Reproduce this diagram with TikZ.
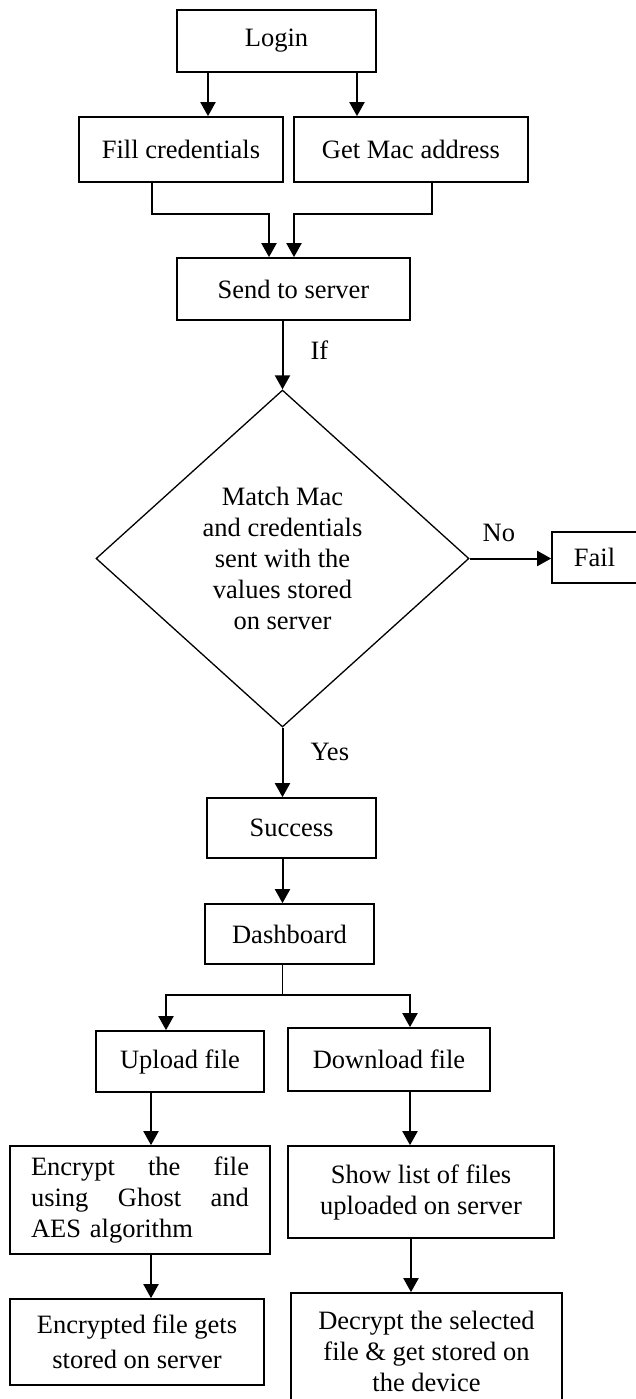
\documentclass[tikz,border=0pt]{standalone}
\usepackage{fontspec}
\setmainfont{Liberation Serif}
\usetikzlibrary{shapes.geometric, arrows.meta, positioning}

\begin{document}
\begin{tikzpicture}[
        x=1pt, y=-1pt,
        font=\fontsize{26.5}{31}\selectfont,
        block/.style={rectangle, draw, line width=1.7pt, inner sep=0pt, align=center},
        decision/.style={diamond, draw, line width=1.3pt, inner sep=0pt, align=center, minimum width=373pt, minimum height=337pt},
        arrow/.style={-{Triangle[width=15pt,length=14pt]}, line width=2pt},
        lbl/.style={inner sep=0pt}
    ]
        \useasboundingbox (0,0) rectangle (635,1399);
        \node[block, minimum width=199pt, minimum height=62pt] (login) at (276.5,41) {Login};
        \node[block, minimum width=204pt, minimum height=65pt] (fill) at (181,149.5) {Fill credentials};
        \node[block, minimum width=234pt, minimum height=65pt] (mac) at (411,149.5) {Get Mac address};
        \node[block, minimum width=233pt, minimum height=62pt] (send) at (293.5,289) {Send to server};
        \node[decision] (match) at (282.5,558.5) {Match Mac\\and credentials\\sent with the\\values stored\\on server};
        \node[block, minimum width=85pt, minimum height=51pt] (fail) at (594.5,557.5) {Fail};
        \node[block, minimum width=169pt, minimum height=60pt] (success) at (291.5,828) {Success};
        \node[block, minimum width=169pt, minimum height=60pt] (dashboard) at (289.5,934) {Dashboard};
        \node[block, minimum width=168pt, minimum height=61pt] (upload) at (180,1061.5) {Upload file};
        \node[block, minimum width=202pt, minimum height=63pt] (download) at (389,1059.5) {Download file};
        \node[block, align=left, text width=218pt, minimum width=260pt, minimum height=108pt] (encrypt) at (140,1200)
            {Encrypt\hfill the\hfill file\\using\hfill Ghost\hfill and\\AES algorithm};
        \node[block, minimum width=254pt, minimum height=86pt] (stored) at (137,1342) {Encrypted file gets\\[4pt]stored on server};
        \node[block, minimum width=266pt, minimum height=92pt] (showlist) at (421,1192) {Show list of files\\uploaded on server};
        \node[block, minimum width=271pt, minimum height=116pt] (decrypt) at (426.5,1351) {Decrypt the selected\\file \& get stored on\\the device};

        \draw[arrow] ([xshift=-68.5pt]login.south) coordinate (la) -- (la |- fill.north);
        \draw[arrow] ([xshift=80.5pt]login.south) coordinate (lb) -- (lb |- mac.north);
        \draw[arrow] ([xshift=-29pt]fill.south) -- ++(0,31) -| ([xshift=-24.5pt]send.north);
        \draw[arrow] ([xshift=21pt]mac.south) -- ++(0,31) -| ([xshift=0.5pt]send.north);
        \draw[arrow] (send.south -| match.north) -- node[lbl, right=27pt, yshift=5pt] {If} (match.north);
        \draw[arrow] (match.east) -- node[lbl, above=16pt, xshift=-11.5pt] {No} (match.east -| fail.west);
        \draw[arrow] (match.south) -- node[lbl, right=27pt, yshift=10pt] {Yes} (match.south |- success.north);
        \draw[arrow] (success.south -| match.south) -- (dashboard.north -| match.south);
        \draw[line width=1.7pt] (dashboard.south -| match.south) -- ++(0,30) coordinate (split);
        \draw[arrow] (split) -| ([xshift=-14pt]upload.north);
        \draw[arrow] (split) -| ([xshift=21pt]download.north);
        \draw[arrow] ([xshift=-29pt]upload.south) coordinate (ua) -- (ua |- encrypt.north);
        \draw[arrow] ([xshift=11pt]encrypt.south) coordinate (ea) -- (ea |- stored.north);
        \draw[arrow] ([xshift=21pt]download.south) coordinate (da) -- (da |- showlist.north);
        \draw[arrow] ([xshift=-10pt]showlist.south) coordinate (sa) -- (sa |- decrypt.north);
    \end{tikzpicture}
\end{document}
